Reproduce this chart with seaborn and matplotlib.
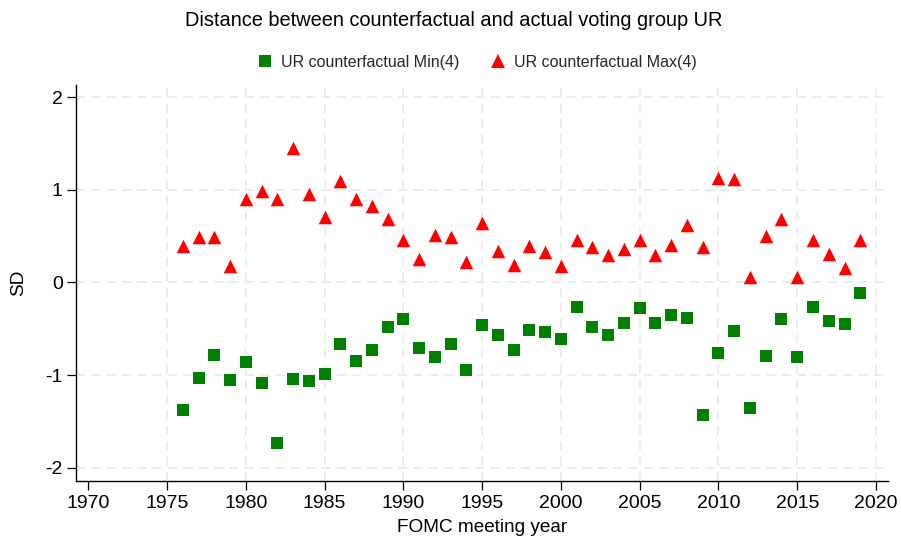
import numpy as np
import pandas as pd
import matplotlib
matplotlib.use("Agg")
import matplotlib.pyplot as plt
import seaborn as sns
from matplotlib.lines import Line2D

years = list(range(1976, 2020))

ur_min = [-1.38, -1.03, -0.785, -1.05, -0.86, -1.087, -1.733, -1.044, -1.066, -0.987,
          -0.667, -0.85, -0.731, -0.483, -0.397, -0.71, -0.803, -0.667, -0.947, -0.458,
          -0.57, -0.731, -0.512, -0.537, -0.613, -0.264, -0.48, -0.57, -0.44, -0.278,
          -0.44, -0.354, -0.386, -1.433, -0.764, -0.523, -1.357, -0.796, -0.397, -0.803,
          -0.268, -0.419, -0.451, -0.117]

ur_max = [0.396, 0.488, 0.49, 0.173, 0.903, 0.989, 0.903, 1.451, 0.959, 0.707,
          1.092, 0.901, 0.827, 0.689, 0.455, 0.258, 0.513, 0.493, 0.225, 0.639,
          0.345, 0.186, 0.399, 0.324, 0.178, 0.461, 0.385, 0.297, 0.362, 0.455,
          0.297, 0.405, 0.626, 0.378, 1.124, 1.119, 0.056, 0.507, 0.687, 0.058,
          0.462, 0.304, 0.159, 0.464]

series_names = ["UR counterfactual Min(4)", "UR counterfactual Max(4)"]
x_ticks = list(range(1970, 2021, 5))
y_ticks = [-2, -1, 0, 1, 2]

df = pd.DataFrame({
    "year": years * 2,
    "value": ur_min + ur_max,
    "series": [series_names[0]] * len(years) + [series_names[1]] * len(years),
})

sns.set_theme(style="white")
plt.rcParams['font.family'] = ['Liberation Sans', 'DejaVu Sans']

fig = plt.figure(figsize=(9.01, 5.39), dpi=100)
ax = fig.add_axes([76 / 901, 1 - 481 / 539, (888 - 76) / 901, (481 - 85) / 539])

palette = {series_names[0]: "#008000", series_names[1]: "#FF0000"}

sub_min = df[df["series"] == series_names[0]]
sub_max = df[df["series"] == series_names[1]]
sns.scatterplot(data=sub_min, x="year", y="value", color=palette[series_names[0]],
                marker="s", s=64, linewidth=0, ax=ax, legend=False, zorder=3)
sns.scatterplot(data=sub_max, x="year", y="value", color=palette[series_names[1]],
                marker="^", s=95, linewidth=0, ax=ax, legend=False, zorder=3)

ax.set_xlim(1969.22, 2020.76)
ax.set_ylim(-2.144, 2.133)
ax.set_xticks(x_ticks)
ax.set_yticks(y_ticks)
ax.set_xticklabels([str(t) for t in x_ticks], fontsize=14)
ax.set_yticklabels([str(t) for t in y_ticks], fontsize=14)

# grid
for t in x_ticks[1:]:
    ax.axvline(t, color="#EBEBEB", lw=1.3, linestyle=(0, (5, 3.5)), zorder=1)
for t in y_ticks:
    ax.axhline(t, color="#EBEBEB", lw=1.3, linestyle=(0, (5, 3.5)), zorder=1)

for side in ["top", "right"]:
    ax.spines[side].set_visible(False)
for side in ["left", "bottom"]:
    ax.spines[side].set_color("black")
    ax.spines[side].set_linewidth(1.0)

ax.tick_params(axis="x", which="both", direction="out", length=6.5, width=0.9,
               color="black", pad=3.5, labelcolor="black", bottom=True)
ax.tick_params(axis="y", which="both", direction="out", length=6.5, width=0.9,
               color="black", pad=3, labelcolor="black", left=True)

ax.set_xlabel("FOMC meeting year", fontsize=13.7, labelpad=5, color="black")
ax.set_ylabel("SD", fontsize=13.7, labelpad=13, color="black")

fig.suptitle("Distance between counterfactual and actual voting group UR",
             x=454 / 901, y=1 - 20.5 / 539, va="center", fontsize=14.4, color="black")

handles = [
    Line2D([], [], marker="s", color=palette[series_names[0]], linestyle="none",
           markersize=8.2, markeredgewidth=0),
    Line2D([], [], marker="^", color=palette[series_names[1]], linestyle="none",
           markersize=10, markeredgewidth=0),
]
fig.legend(handles, series_names, loc="center", bbox_to_anchor=(477 / 901, 1 - 62.5 / 539),
           ncol=2, frameon=False, fontsize=11.5, handlelength=1.0, handletextpad=0.5,
           columnspacing=1.9)

fig.savefig("out.png", dpi=100, facecolor="white")
